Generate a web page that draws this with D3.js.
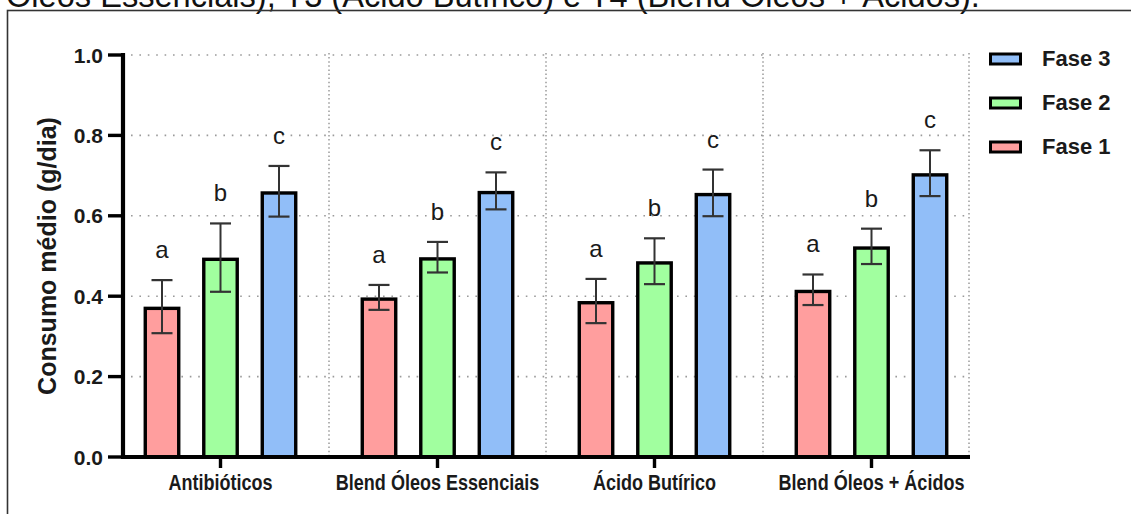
<!DOCTYPE html>
<html>
<head>
<meta charset="utf-8">
<script src="https://cdn.jsdelivr.net/npm/d3@7"></script>
<style>
  html, body { margin: 0; padding: 0; background: #fff; }
  svg { display: block; }
</style>
</head>
<body>
<svg id="chart" width="1131" height="514"></svg>
<script>
// ---- data ----
const categories = ["Antibióticos", "Blend Óleos Essenciais", "Ácido Butírico", "Blend Óleos + Ácidos"];
const phases = ["Fase 1", "Fase 2", "Fase 3"];
const fase1 = [0.374, 0.397, 0.388, 0.416];
const fase2 = [0.496, 0.497, 0.487, 0.524];
const fase3 = [0.661, 0.662, 0.657, 0.706];
const err1 = [0.066, 0.031, 0.055, 0.038];
const err2 = [0.085, 0.038, 0.057, 0.044];
const err3 = [0.063, 0.046, 0.058, 0.057];
const letters1 = ["a", "a", "a", "a"];
const letters2 = ["b", "b", "b", "b"];
const letters3 = ["c", "c", "c", "c"];
const yTicks = [0.0, 0.2, 0.4, 0.6, 0.8, 1.0];
const yTitle = "Consumo médio (g/dia)";
const caption = "Óleos Essenciais), T3 (Ácido Butírico) e T4 (Blend Óleos + Ácidos).";

const colors = ["#FF9E9E", "#A1FF9F", "#91BEF8"];
const values = [fase1, fase2, fase3];
const errors = [err1, err2, err3];
const letters = [letters1, letters2, letters3];

const svg = d3.select("#chart");
const FONT = "'Liberation Sans', Arial, sans-serif";
const NARROW = "'Liberation Sans Narrow', 'Arial Narrow', 'Liberation Sans', sans-serif";

// caption (cut off at top, as in the source) and frame
svg.append("text").attr("x", 6).attr("y", 6.5)
  .attr("font-family", FONT).attr("font-size", 32.6).attr("fill", "#111")
  .text(caption);
svg.append("rect").attr("x", 7.5).attr("y", 10.5).attr("width", 1300).attr("height", 700)
  .attr("fill", "none").attr("stroke", "#333").attr("stroke-width", 1.6);

const axisLeft = 123, axisRight = 970;
const y = d3.scaleLinear().domain([0, 1]).range([457, 55]);
const x = d3.scaleBand().domain(categories).range([112, 980]).paddingInner(0).paddingOuter(0);
const xs = d3.scaleBand().domain(phases).range([-87.75, 87.75]).paddingInner(0.37).paddingOuter(0.185);

// grid
const grid = svg.append("g");
yTicks.filter(t => t > 0).forEach(t => {
  grid.append("line").attr("x1", axisLeft + 8).attr("x2", axisRight)
    .attr("y1", y(t)).attr("y2", y(t))
    .attr("stroke", "#9a9a9a").attr("stroke-width", 1.6).attr("stroke-dasharray", "1.6,6.8");
});
const vgrid = categories.slice(1).map(c => x(c)).concat([axisRight - 1]);
vgrid.forEach(vx => {
  grid.append("line").attr("x1", vx).attr("x2", vx).attr("y1", y(1) - 2).attr("y2", y(0))
    .attr("stroke", "#9a9a9a").attr("stroke-width", 1.5).attr("stroke-dasharray", "1.5,2.6");
});

// bars
const sw = 3.4;
const bars = svg.append("g");
categories.forEach((cat, ci) => {
  const cx = x(cat) + x.bandwidth() / 2;
  phases.forEach((ph, pi) => {
    const v = values[pi][ci];
    const bx = cx + xs(ph);
    const bw = xs.bandwidth();
    bars.append("rect")
      .attr("x", bx + sw / 2).attr("width", bw - sw)
      .attr("y", y(v) + sw / 2).attr("height", y(0) - y(v) - sw / 2)
      .attr("fill", colors[pi]).attr("stroke", "#000").attr("stroke-width", sw);
  });
});

// error bars and letters
const eb = svg.append("g");
categories.forEach((cat, ci) => {
  const cx = x(cat) + x.bandwidth() / 2;
  phases.forEach((ph, pi) => {
    const v = values[pi][ci], e = errors[pi][ci];
    const mx = cx + xs(ph) + xs.bandwidth() / 2;
    const capW = 10.5;
    eb.append("line").attr("x1", mx).attr("x2", mx).attr("y1", y(v + e)).attr("y2", y(v - e))
      .attr("stroke", "#333").attr("stroke-width", 2);
    [v + e, v - e].forEach(ev => {
      eb.append("line").attr("x1", mx - capW).attr("x2", mx + capW).attr("y1", y(ev)).attr("y2", y(ev))
        .attr("stroke", "#333").attr("stroke-width", 2.2);
    });
    eb.append("text").attr("x", mx).attr("y", y(v + e) - 22)
      .attr("text-anchor", "middle").attr("font-family", FONT).attr("font-size", 24)
      .attr("fill", "#1a1a1a").text(letters[pi][ci]);
  });
});

// axes
const ax = svg.append("g");
ax.append("line").attr("x1", axisLeft).attr("x2", axisLeft).attr("y1", y(1) - 2).attr("y2", y(0) + 2)
  .attr("stroke", "#000").attr("stroke-width", 4.2);
ax.append("line").attr("x1", axisLeft - 2).attr("x2", axisRight).attr("y1", y(0)).attr("y2", y(0))
  .attr("stroke", "#000").attr("stroke-width", 4.2);
yTicks.forEach(t => {
  ax.append("line").attr("x1", axisLeft - 15).attr("x2", axisLeft).attr("y1", y(t)).attr("y2", y(t))
    .attr("stroke", "#000").attr("stroke-width", 3.4);
  ax.append("text").attr("x", 103).attr("y", y(t)).attr("dy", "0.36em")
    .attr("text-anchor", "end").attr("font-family", FONT).attr("font-weight", "bold")
    .attr("font-size", 21).attr("fill", "#1a1a1a").text(d3.format(".1f")(t));
});
categories.forEach(cat => {
  const cx = x(cat) + x.bandwidth() / 2;
  ax.append("line").attr("x1", cx).attr("x2", cx).attr("y1", y(0)).attr("y2", y(0) + 11)
    .attr("stroke", "#000").attr("stroke-width", 3.4);
  const t = ax.append("text").attr("x", cx).attr("y", 490)
    .attr("text-anchor", "middle").attr("font-family", NARROW).attr("font-weight", "bold")
    .attr("font-size", 22).attr("fill", "#1a1a1a").text(cat);
  const w = t.node().getComputedTextLength();
  const tmp = svg.append("text").attr("font-family", FONT).attr("font-weight", "bold")
    .attr("font-size", 22).text(cat);
  const wr = tmp.node().getComputedTextLength();
  tmp.remove();
  if (w / wr > 0.9) {
    t.attr("font-family", FONT).attr("x", 0).attr("y", 0)
      .attr("transform", `translate(${cx},490) scale(0.82,1)`);
  }
});

// y title
svg.append("text").attr("transform", `translate(56,${(y(0) + y(1)) / 2}) rotate(-90)`)
  .attr("text-anchor", "middle").attr("font-family", FONT).attr("font-weight", "bold")
  .attr("font-size", 25).attr("fill", "#1a1a1a").text(yTitle);

// legend (reversed order)
const legend = svg.append("g");
phases.slice().reverse().forEach((ph, i) => {
  const pi = phases.indexOf(ph);
  const cy = 59 + i * 44;
  legend.append("rect").attr("x", 990.5).attr("y", cy - 5).attr("width", 30).attr("height", 10)
    .attr("fill", colors[pi]).attr("stroke", "#000").attr("stroke-width", 3);
  legend.append("text").attr("x", 1042).attr("y", cy + 7)
    .attr("font-family", FONT).attr("font-weight", "bold").attr("font-size", 22)
    .attr("fill", "#1a1a1a").text(ph);
});
</script>
</body>
</html>
